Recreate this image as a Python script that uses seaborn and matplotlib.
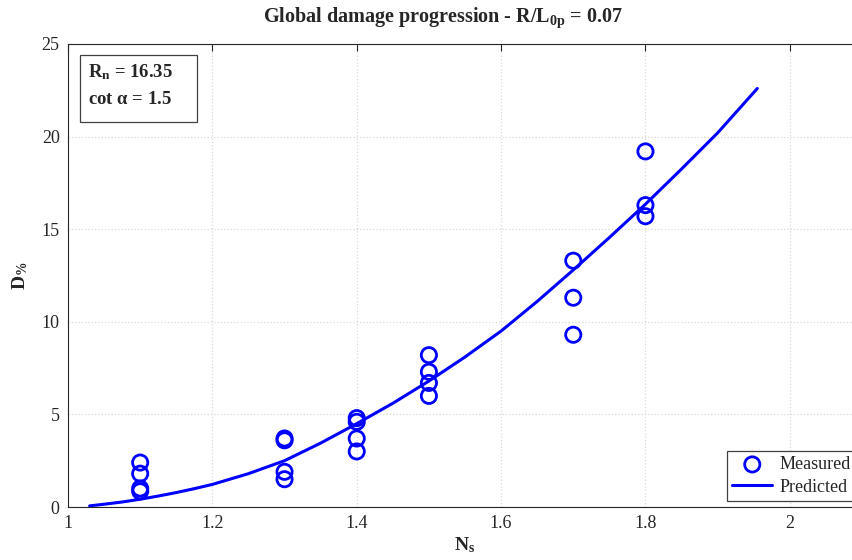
import numpy as np
import pandas as pd
import matplotlib
matplotlib.use("Agg")
import matplotlib.pyplot as plt
from matplotlib.patches import Rectangle
import seaborn as sns

# Measured data
ns_measured = [1.1, 1.1, 1.1, 1.1,
               1.3, 1.3, 1.3, 1.3,
               1.4, 1.4, 1.4, 1.4,
               1.5, 1.5, 1.5, 1.5,
               1.7, 1.7, 1.7,
               1.8, 1.8, 1.8]
d_measured = [2.4, 1.8, 1.0, 0.85,
              3.7, 3.6, 1.9, 1.5,
              4.8, 4.6, 3.7, 3.0,
              8.2, 7.3, 6.7, 6.0,
              13.3, 11.3, 9.3,
              19.2, 16.3, 15.7]

# Predicted curve
ns_pred = [1.03, 1.05, 1.075, 1.10, 1.125, 1.15, 1.175, 1.20, 1.25, 1.30, 1.35,
           1.40, 1.45, 1.50, 1.55, 1.60, 1.65, 1.70, 1.75, 1.80, 1.85, 1.90, 1.955]
d_pred = [0.06, 0.15, 0.27, 0.42, 0.59, 0.78, 0.99, 1.22, 1.80, 2.50, 3.45,
          4.50, 5.60, 6.80, 8.10, 9.50, 11.10, 12.80, 14.55, 16.35, 18.25, 20.20, 22.60]

x_ticks = [1, 1.2, 1.4, 1.6, 1.8, 2]
y_ticks = [0, 5, 10, 15, 20, 25]

sns.set_style("white")
plt.rcParams['font.family'] = ['Liberation Serif', 'DejaVu Serif']
plt.rcParams['mathtext.fontset'] = 'custom'
plt.rcParams['mathtext.rm'] = 'Liberation Serif'
plt.rcParams['mathtext.bf'] = 'Liberation Serif:bold'
plt.rcParams['mathtext.it'] = 'Liberation Serif:italic'

W, H = 853, 560
fig = plt.figure(figsize=(W / 100, H / 100), dpi=100)
ax = fig.add_axes([68 / W, 1 - 507 / H, 794 / W, 463 / H])

meas = pd.DataFrame({"Ns": ns_measured, "D": d_measured})
pred = pd.DataFrame({"Ns": ns_pred, "D": d_pred})

blue = (0, 0, 1)
sns.lineplot(data=pred, x="Ns", y="D", ax=ax, color=blue, lw=2.2,
             label="Predicted", zorder=3, sort=False)
sns.scatterplot(data=meas, x="Ns", y="D", ax=ax, marker="o", s=120,
                facecolors="none", edgecolor=blue, linewidth=2.0,
                label="Measured", zorder=4)

ax.set_xlim(1, 2.1)
ax.set_ylim(0, 25)
ax.set_xticks(x_ticks)
ax.set_xticklabels(["1", "1.2", "1.4", "1.6", "1.8", "2"])
ax.set_yticks(y_ticks)
ax.tick_params(direction="in", top=True, right=True, length=5, width=0.8,
               labelsize=13, colors="#262626", pad=6)
ax.grid(True, color="#d9d9d9", linestyle=":", linewidth=0.9)
for s in ax.spines.values():
    s.set_color("#262626")
    s.set_linewidth(0.8)

ax.set_xlabel(r"$\mathbf{N_s}$", fontsize=14, labelpad=2)
ax.set_ylabel(r"$\mathbf{D_{\%}}$", fontsize=14, labelpad=8)
fig.text(443 / W, 1 - 18 / H,
         r"Global damage progression - R/L$_{\mathbf{0p}}$ = 0.07",
         ha="center", va="center", fontsize=14.5, fontweight="bold")

# annotation box
fig.patches.append(Rectangle((80 / W, 1 - 122 / H), 117 / W, 67 / H,
                             transform=fig.transFigure, facecolor="white",
                             edgecolor="#404040", linewidth=0.9, zorder=5))
fig.text(88 / W, 1 - 72 / H, r"$\mathbf{R_n}$ = 16.35", ha="left",
         va="center", fontsize=13.5, fontweight="bold", zorder=6)
fig.text(88 / W, 1 - 99 / H, r"cot $\mathbf{\alpha}$ = 1.5", ha="left",
         va="center", fontsize=13.5, fontweight="bold", zorder=6)

h, l = ax.get_legend_handles_labels()
order = [l.index("Measured"), l.index("Predicted")]
leg = ax.legend([h[i] for i in order], [l[i] for i in order],
                loc="lower left", bbox_to_anchor=(727 / W, 1 - 501 / H),
                bbox_transform=fig.transFigure, borderaxespad=0,
                fontsize=13, frameon=True,
                fancybox=False, edgecolor="#404040", framealpha=1,
                borderpad=0.3, handlelength=2.2, labelspacing=0.3,
                handletextpad=0.4)
leg.get_frame().set_linewidth(0.9)

fig.savefig("out.png", dpi=100)
